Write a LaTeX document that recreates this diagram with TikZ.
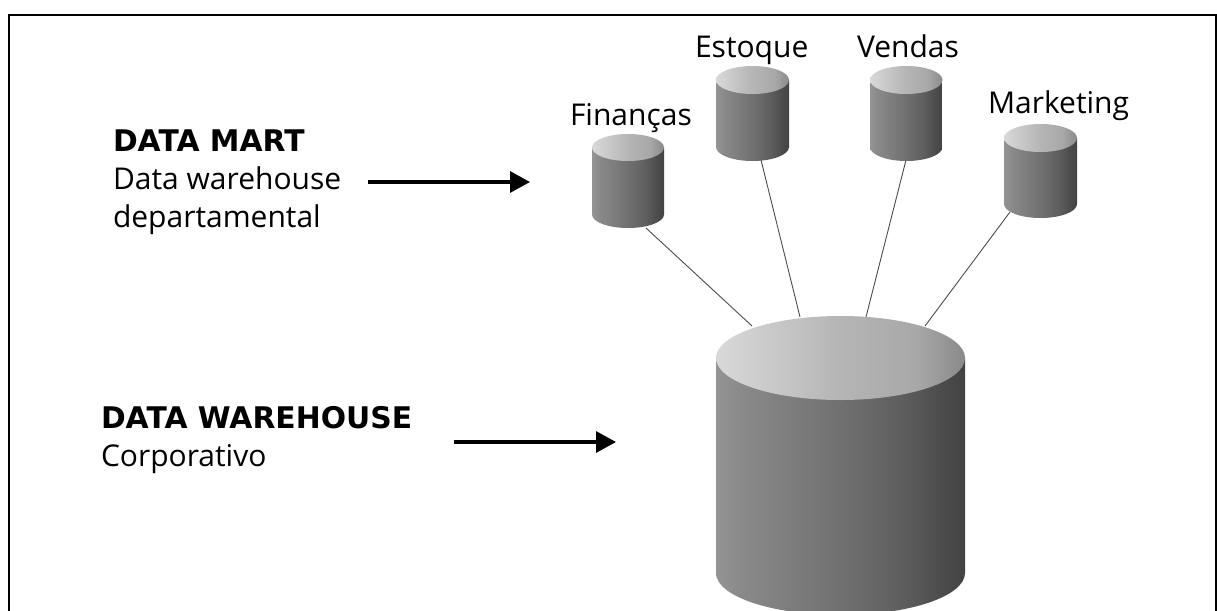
\documentclass[tikz,border=0pt]{standalone}
\usepackage{fontspec}
\setmainfont{Open Sans}
\newfontfamily\headfont{DejaVu Sans}[BoldFont={DejaVu Sans Bold}]
\usetikzlibrary{arrows.meta}
\pgfdeclarehorizontalshading{cylside}{100bp}{
  color(0bp)=(black!40); color(25bp)=(black!42); color(30bp)=(black!46); color(50bp)=(black!56);
  color(62bp)=(black!63); color(70bp)=(black!70); color(75bp)=(black!74); color(100bp)=(black!74)}
\pgfdeclarehorizontalshading{cyltop}{100bp}{
  color(0bp)=(black!13); color(25bp)=(black!15); color(50bp)=(black!29);
  color(65bp)=(black!34); color(75bp)=(black!46); color(100bp)=(black!46)}
\tikzset{
  x=1pt,y=-1pt,
  frameline/.style={line width=2.6pt,black},
  label/.style={inner sep=0pt,outer sep=0pt,anchor=base west,align=left,font=\fontsize{30}{38}\selectfont,black},
  linkline/.style={line width=0.9pt,black!70},
  bigarrow/.style={line width=3.2pt,black,-{Triangle[length=20pt,width=21pt]}}
}
\newcommand{\headtxt}[1]{{\headfont\bfseries\fontsize{29.8}{38}\selectfont #1}}
% \cyl{name}{left}{top}{right}{bottom}{ry}
\newcommand{\cyl}[6]{%
  \path[shading=cylside,shading angle=0]
    (#2,#3+#6) -- (#2,#5-#6) arc[start angle=180,end angle=360,x radius={(#4-#2)/2},y radius=-#6]
    -- (#4,#3+#6) -- cycle;
  \path[shading=cyltop]
    ({(#2+#4)/2},#3+#6) circle[x radius={(#4-#2)/2},y radius=#6];
  \coordinate (#1) at ({(#2+#4)/2},{(#3+#5)/2});
}
\begin{document}
\begin{tikzpicture}
\useasboundingbox (0,0) rectangle (1217,610);
\fill[white] (0,0) rectangle (1217,610);
\draw[frameline] (9,612) -- (9,15) -- (1216,15) -- (1216,612);

% connector end points
\coordinate (finEnd) at (646,228);
\coordinate (estEnd) at (761,160);
\coordinate (venEnd) at (906,160);
\coordinate (marEnd) at (1010,212);
\coordinate (dwA) at (752,326);
\coordinate (dwB) at (800,317);
\coordinate (dwC) at (866,317);
\coordinate (dwD) at (925,326);
\draw[linkline] (finEnd) -- (dwA);
\draw[linkline] (estEnd) -- (dwB);
\draw[linkline] (venEnd) -- (dwC);
\draw[linkline] (marEnd) -- (dwD);

\cyl{financas}{592}{134}{664}{228}{13.5}
\cyl{estoque}{716}{66}{789}{161}{14}
\cyl{vendas}{870}{66}{942.5}{161}{14}
\cyl{marketing}{1004}{124}{1077}{218}{14}
\cyl{warehouse}{716}{316}{965}{615}{42}

\node[label] (tFin) at (570,125) {Finanças};
\node[label] (tEst) at (695,57) {Estoque};
\node[label] (tVen) at (857,57) {Vendas};
\node[label] (tMar) at (988,113) {Marketing};

\node[label] (tMart) at (113,227) {\headtxt{DATA MART}\\Data warehouse\\departamental};
\node[label] (tDw) at (101,466) {\headtxt{DATA WAREHOUSE}\\Corporativo};

\coordinate (a1s) at (368,182);
\coordinate (a1e) at (530,182);
\coordinate (a2s) at (454,442);
\coordinate (a2e) at (616,442);
\draw[bigarrow] (a1s) -- (a1e);
\draw[bigarrow] (a2s) -- (a2e);
\end{tikzpicture}
\end{document}
